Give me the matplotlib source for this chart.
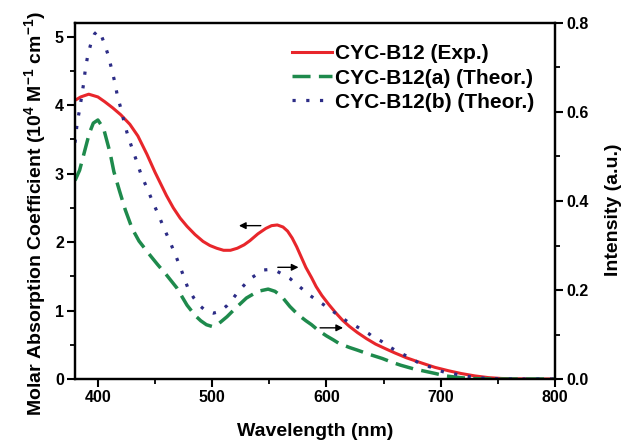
import matplotlib
matplotlib.use("Agg")
import matplotlib.pyplot as plt
from matplotlib.ticker import MultipleLocator, FormatStrFormatter

plt.rcParams['font.family'] = ['Liberation Sans', 'DejaVu Sans']
plt.rcParams['font.weight'] = 'bold'
plt.rcParams['mathtext.fontset'] = 'custom'
plt.rcParams['mathtext.rm'] = 'Liberation Sans:bold'
plt.rcParams['mathtext.bf'] = 'Liberation Sans:bold'
plt.rcParams['mathtext.default'] = 'bf'

# --- Data ---
exp_wl = [380, 385, 392, 400, 406, 413, 420, 428, 435, 443, 450, 455, 460, 466, 472, 478,
          485, 492, 498, 504, 510, 516, 522, 528, 533, 540, 547, 552, 557, 562, 566, 570,
          574, 578, 582, 587, 591, 596, 602, 608, 614, 620, 627, 635, 643, 652, 660, 670,
          684, 695, 707, 718, 730, 742, 753, 765, 780, 800]
exp_abs = [4.07, 4.12, 4.16, 4.12, 4.05, 3.96, 3.86, 3.72, 3.55, 3.28, 3.02, 2.85, 2.68, 2.50,
           2.35, 2.23, 2.11, 2.01, 1.95, 1.91, 1.88, 1.88, 1.91, 1.96, 2.02, 2.12, 2.20, 2.24,
           2.25, 2.22, 2.16, 2.06, 1.93, 1.78, 1.63, 1.48, 1.35, 1.22, 1.09, 0.97, 0.86, 0.77,
           0.68, 0.59, 0.51, 0.44, 0.38, 0.31, 0.23, 0.17, 0.12, 0.08, 0.045, 0.02, 0.008,
           0.003, 0.0, 0.0]

theo_a_wl = [380, 384, 388, 392.5, 396, 400, 405, 410.7, 414, 419, 424, 430, 436, 446, 452,
             460, 469, 478, 485, 490, 495, 500, 506, 513, 520, 530, 540, 549, 555, 561, 568,
             575, 582, 587, 593, 600, 606, 611, 620, 627, 638, 649, 657, 665, 676, 687, 696,
             704, 714, 724, 735, 750, 800]
theo_a_int = [0.446, 0.469, 0.508, 0.552, 0.575, 0.582, 0.563, 0.508, 0.466, 0.422, 0.380,
              0.338, 0.310, 0.277, 0.258, 0.234, 0.205, 0.166, 0.143, 0.131, 0.122, 0.118,
              0.125, 0.140, 0.158, 0.182, 0.197, 0.202, 0.197, 0.185, 0.163, 0.145, 0.131,
              0.122, 0.109, 0.097, 0.088, 0.080, 0.071, 0.065, 0.055, 0.046, 0.038, 0.031,
              0.023, 0.017, 0.012, 0.007, 0.004, 0.0015, 0.0005, 0.0, 0.0]

theo_b_wl = [380, 382, 384, 387.6, 389, 391, 394, 397, 400, 403, 405.5, 409, 412, 415, 417,
             420, 423, 426, 430, 434, 438, 443, 448, 453, 458, 463, 468, 472, 479, 484, 490,
             495, 501, 507, 513, 518, 523, 528, 533, 539, 545, 550, 556, 562, 568, 573, 579,
             585, 591, 597, 603, 609, 614, 620, 625, 631, 637, 642, 648, 654, 660, 666, 672,
             677, 682, 688, 694, 700, 705, 711, 717, 723, 729, 740, 750, 765, 800]
theo_b_int = [0.531, 0.578, 0.605, 0.665, 0.695, 0.725, 0.755, 0.775, 0.783, 0.772, 0.755,
              0.728, 0.697, 0.665, 0.637, 0.609, 0.577, 0.549, 0.518, 0.489, 0.458, 0.429,
              0.398, 0.369, 0.338, 0.309, 0.278, 0.252, 0.203, 0.182, 0.163, 0.152, 0.148,
              0.152, 0.165, 0.180, 0.197, 0.211, 0.225, 0.235, 0.245, 0.246, 0.243, 0.235,
              0.226, 0.215, 0.202, 0.189, 0.178, 0.168, 0.157, 0.146, 0.137, 0.126, 0.120,
              0.111, 0.102, 0.092, 0.085, 0.074, 0.065, 0.057, 0.049, 0.042, 0.034, 0.029,
              0.025, 0.018, 0.014, 0.012, 0.009, 0.006, 0.004, 0.0015, 0.0005, 0.0, 0.0]

labels = ['CYC-B12 (Exp.)', 'CYC-B12(a) (Theor.)', 'CYC-B12(b) (Theor.)']
x_ticks = [400, 500, 600, 700, 800]

RED = '#e8262b'
GREEN = '#1e8a4c'
BLUE = '#2c2c86'

fig = plt.figure(figsize=(6.21, 4.42), dpi=100)
ax = fig.add_axes([0.1208, 0.1425, 0.7729, 0.8055])
ax2 = ax.twinx()

l1, = ax.plot(exp_wl, exp_abs, color=RED, lw=2.2, label=labels[0])
l2, = ax2.plot(theo_a_wl, theo_a_int, color=GREEN, lw=2.5, linestyle=(0, (5.2, 2.4)),
               label=labels[1])
l3, = ax2.plot(theo_b_wl, theo_b_int, color=BLUE, lw=2.3, linestyle=(0, (1, 3.3)),
               label=labels[2])

ax.set_xlim(380, 800)
ax.set_ylim(0, 5.2)
ax2.set_ylim(0, 0.8)

ax.set_xticks(x_ticks)
ax.xaxis.set_minor_locator(MultipleLocator(50))
ax.yaxis.set_major_locator(MultipleLocator(1))
ax.yaxis.set_minor_locator(MultipleLocator(0.5))
ax2.yaxis.set_major_locator(MultipleLocator(0.2))
ax2.yaxis.set_minor_locator(MultipleLocator(0.1))
ax2.yaxis.set_major_formatter(FormatStrFormatter('%.1f'))

for a in (ax, ax2):
    for s in a.spines.values():
        s.set_linewidth(1.6)
    a.tick_params(which='major', direction='out', length=6, width=1.5, labelsize=11.5, pad=2)
    a.tick_params(which='minor', direction='out', length=3.5, width=1.3)
ax.tick_params(top=False, which='both')

ax.set_xlabel('Wavelength (nm)', fontsize=14, fontweight='bold', labelpad=13)
ax.set_ylabel('Molar Absorption Coefficient (10$^{4}$ M$^{-1}$ cm$^{-1}$)', fontsize=14,
              fontweight='bold', labelpad=5)
ax2.set_ylabel('Intensity (a.u.)', fontsize=14, fontweight='bold', labelpad=12)
ax.yaxis.label.set_y(0.465)
ax2.yaxis.label.set_y(0.475)

arrow = dict(arrowstyle='-|>', color='black', lw=1.0, mutation_scale=10)
ax.annotate('', xy=(521, 2.24), xytext=(545, 2.24), arrowprops=arrow)
ax2.annotate('', xy=(578, 0.251), xytext=(555, 0.251), arrowprops=arrow)
ax2.annotate('', xy=(617, 0.115), xytext=(592, 0.115), arrowprops=arrow)

ax2.legend(handles=[l1, l2, l3], loc='upper left', frameon=False, fontsize=15,
           handlelength=1.92, handletextpad=0.15, labelspacing=0.25,
           bbox_to_anchor=(0.452, 0.94), borderaxespad=0.0, borderpad=0.0)

fig.savefig('out.png', dpi=100)
